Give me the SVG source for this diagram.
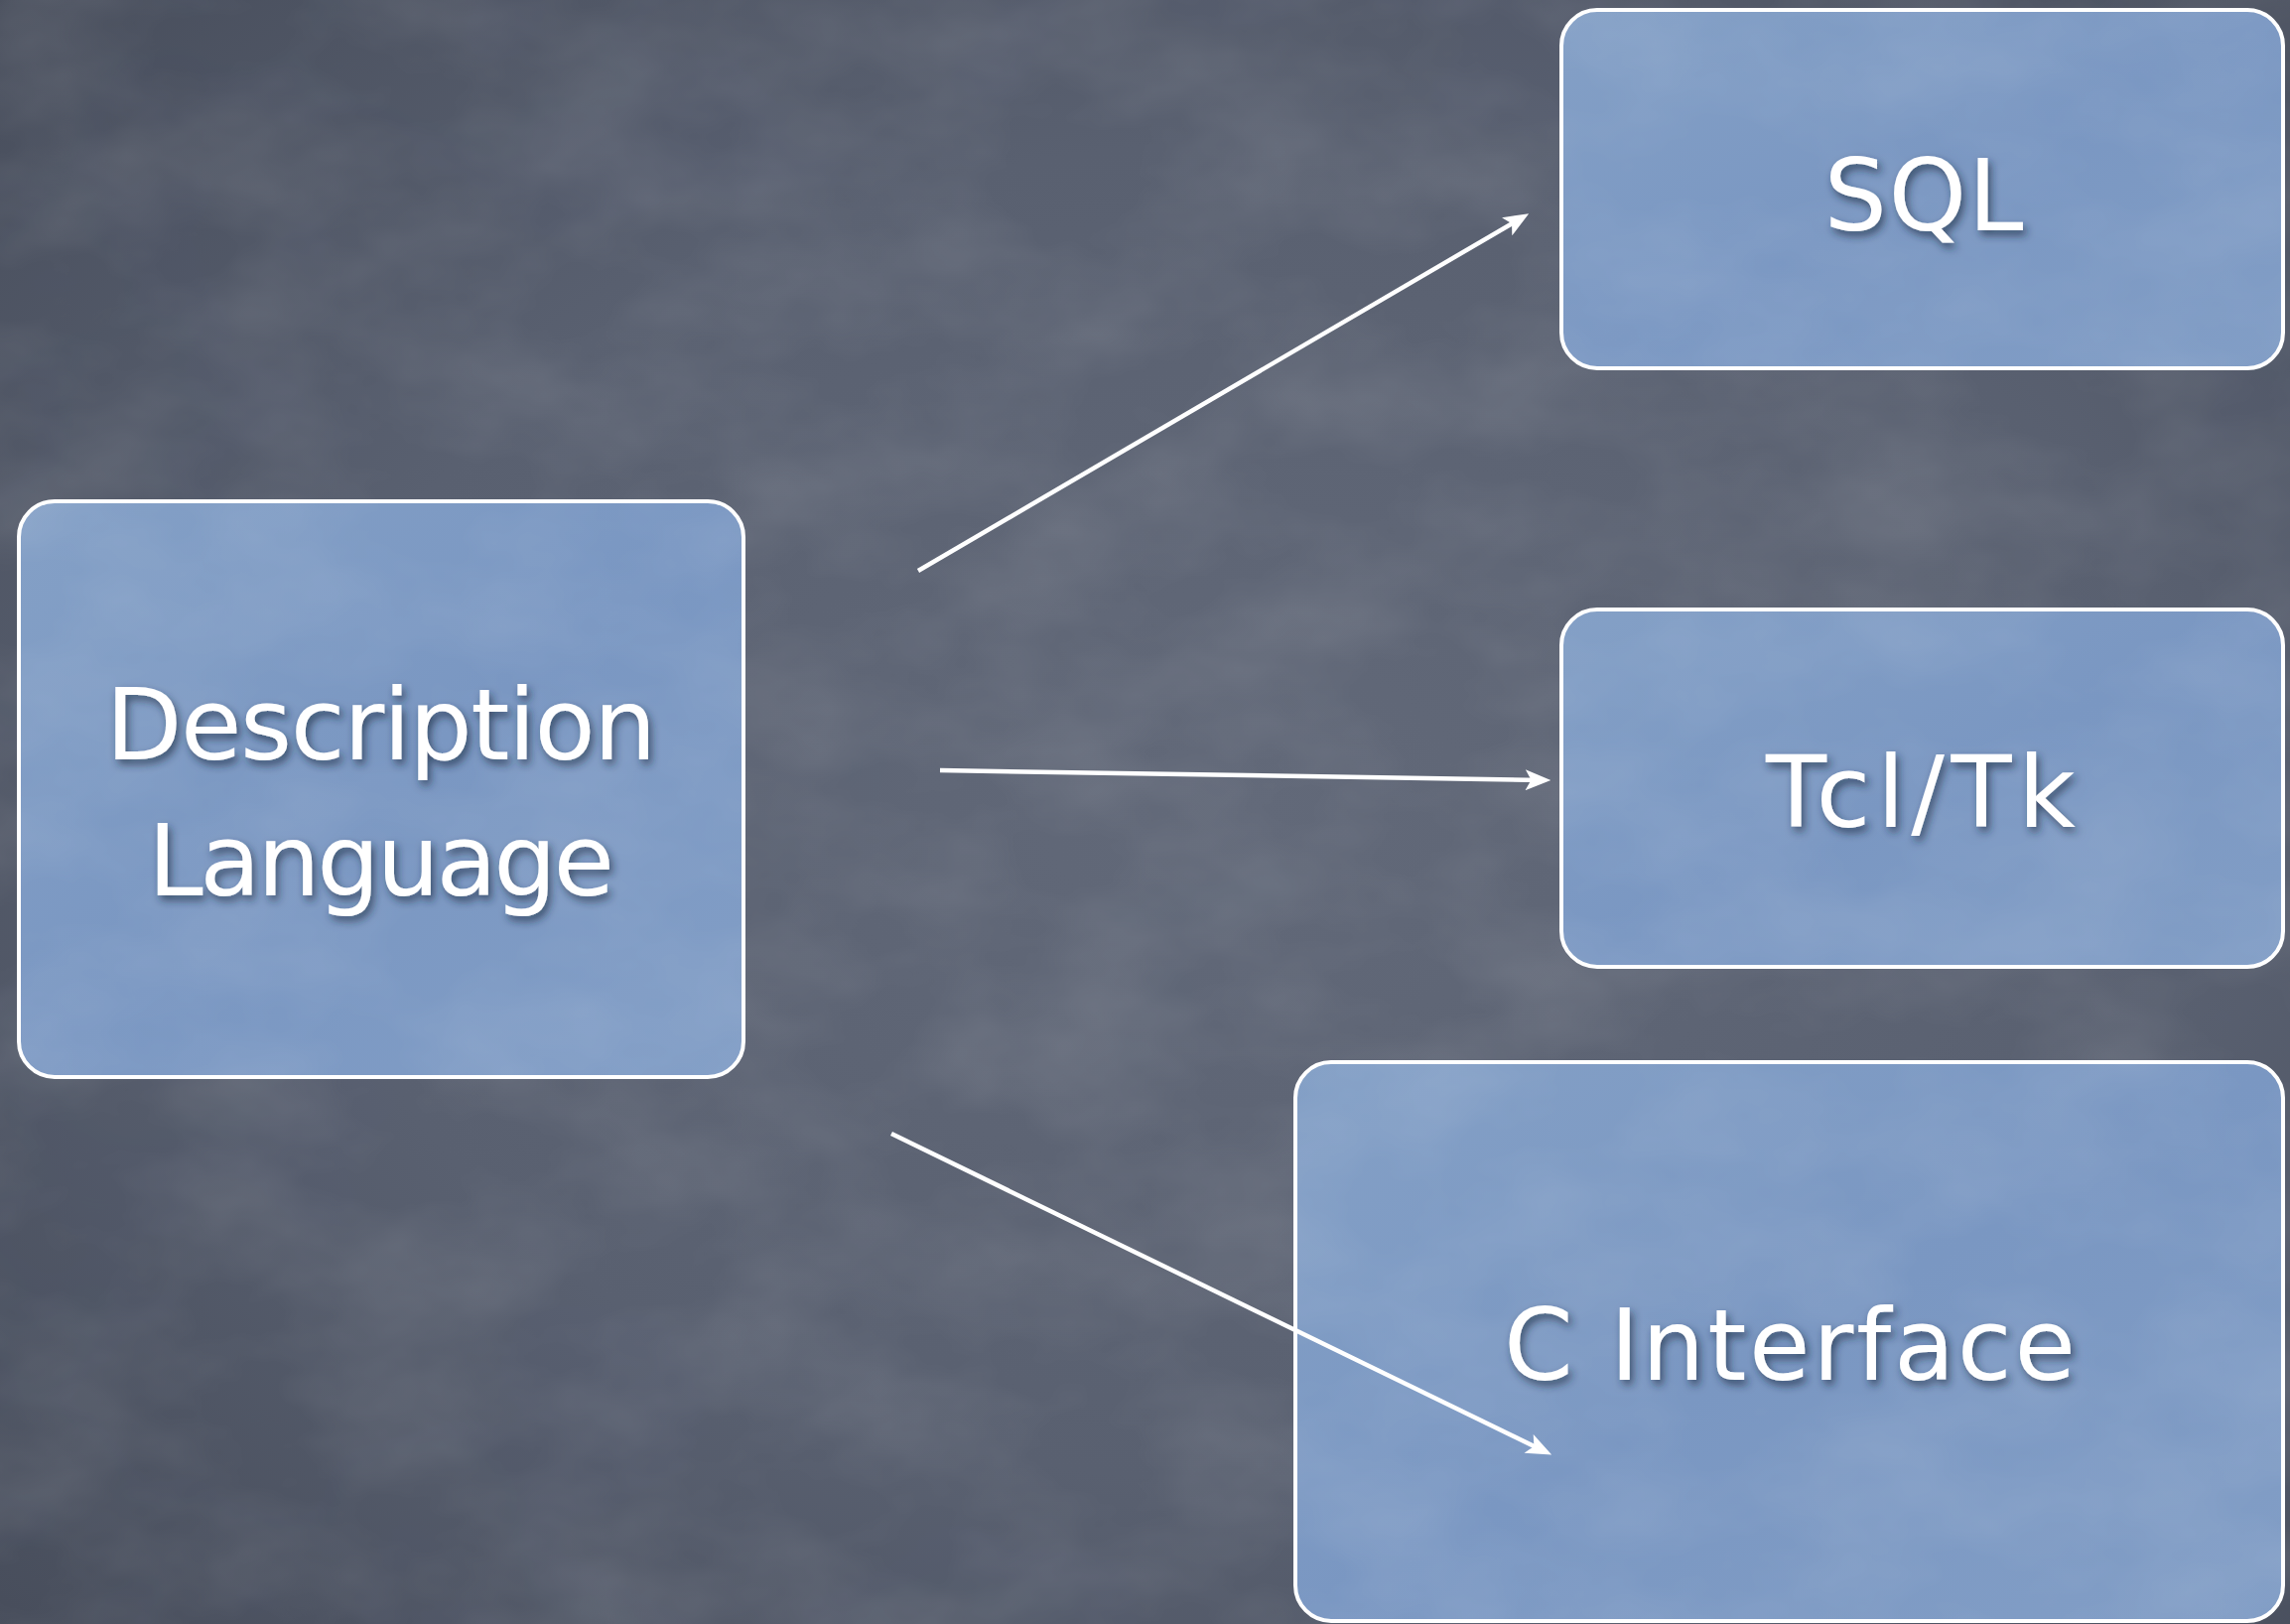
<svg xmlns="http://www.w3.org/2000/svg" width="2307" height="1636" viewBox="0 0 2307 1636">
  <defs>
    <!-- slate chalkboard backdrop, darker toward the edges -->
    <radialGradient id="board" cx="55%" cy="50%" r="75%">
      <stop offset="0" stop-color="#626979"/>
      <stop offset="0.55" stop-color="#596070"/>
      <stop offset="1" stop-color="#464c5a"/>
    </radialGradient>
    <!-- soft blue card fill -->
    <linearGradient id="card" x1="0" y1="0" x2="1" y2="1">
      <stop offset="0" stop-color="#84a0c6"/>
      <stop offset="0.5" stop-color="#7a97c2"/>
      <stop offset="1" stop-color="#829ec6"/>
    </linearGradient>
    <!-- faint mottled chalk texture -->
    <filter id="grain" x="0" y="0" width="100%" height="100%">
      <feTurbulence type="fractalNoise" baseFrequency="0.006 0.009" numOctaves="4" seed="11"/>
      <feColorMatrix type="matrix" values="0 0 0 0 1  0 0 0 0 1  0 0 0 0 1  0.16 0 0 0 -0.055"/>
    </filter>
    <filter id="grainDark" x="0" y="0" width="100%" height="100%">
      <feTurbulence type="fractalNoise" baseFrequency="0.003 0.004" numOctaves="3" seed="4"/>
      <feColorMatrix type="matrix" values="0 0 0 0 0.1  0 0 0 0 0.12  0 0 0 0 0.18  0 0.25 0 0 -0.09"/>
    </filter>
    <!-- lifted label shadow -->
    <filter id="lift" x="-10%" y="-30%" width="125%" height="170%">
      <feDropShadow dx="3" dy="5" stdDeviation="4" flood-color="#1c2740" flood-opacity="0.7"/>
    </filter>
    <marker id="head" viewBox="0 0 11 9" refX="7" refY="4.5" markerWidth="26" markerHeight="21" markerUnits="userSpaceOnUse" orient="auto">
      <path d="M0,0 L11,4.5 L0,9 L2.5,4.5 z" fill="#ffffff"/>
    </marker>
    <style>
      .box { fill: url(#card); stroke: #ffffff; stroke-width: 4; }
      .label { font-family: "DejaVu Sans", "Liberation Sans", sans-serif; font-size: 100px; fill: #ffffff; text-anchor: middle; filter: url(#lift); }
      .link { fill: none; stroke: #ffffff; stroke-width: 4.5; marker-end: url(#head); }
    </style>
  </defs>

  <rect width="2307" height="1636" fill="url(#board)"/>
  <rect width="2307" height="1636" filter="url(#grainDark)"/>

  <g id="description-language">
    <rect class="box" x="19" y="505" width="730" height="580" rx="36" ry="36"/>
    <text class="label" x="384" y="765" textLength="555" lengthAdjust="spacing">Description</text>
    <text class="label" x="384" y="902" textLength="470" lengthAdjust="spacing">Language</text>
  </g>

  <g id="sql">
    <rect class="box" x="1573" y="10" width="727" height="361" rx="36" ry="36"/>
    <text class="label" x="1938" y="232" textLength="201" lengthAdjust="spacing">SQL</text>
  </g>

  <g id="tcl-tk">
    <rect class="box" x="1573" y="614" width="727" height="360" rx="36" ry="36"/>
    <text class="label" x="1935" y="833" textLength="312" lengthAdjust="spacing">Tcl/Tk</text>
  </g>

  <g id="c-interface">
    <rect class="box" x="1305" y="1070" width="995" height="563" rx="36" ry="36"/>
    <text class="label" x="1803" y="1390" textLength="576" lengthAdjust="spacing">C Interface</text>
  </g>

  <!-- chalk texture over the board and cards -->
  <rect width="2307" height="1636" filter="url(#grain)" pointer-events="none"/>

  <g id="connectors">
    <path class="link" d="M925,575 L1532.1,220.0"/>
    <path class="link" d="M947,776 L1553.0,785.9"/>
    <path class="link" d="M898,1142 L1554.8,1461.5"/>
  </g>
</svg>
